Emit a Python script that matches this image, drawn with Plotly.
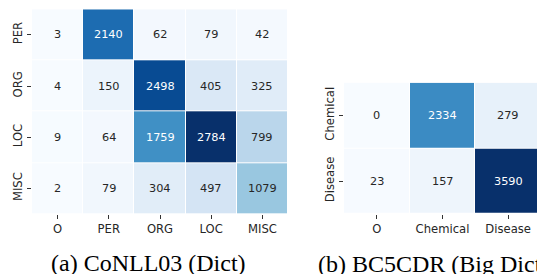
import plotly.graph_objects as go

# ---- data ----
conll_rows = ["PER", "ORG", "LOC", "MISC"]
conll_cols = ["O", "PER", "ORG", "LOC", "MISC"]
conll_vals = [
    [3, 2140, 62, 79, 42],
    [4, 150, 2498, 405, 325],
    [9, 64, 1759, 2784, 799],
    [2, 79, 304, 497, 1079],
]
bc5_rows = ["Chemical", "Disease"]
bc5_cols = ["O", "Chemical", "Disease"]
bc5_vals = [
    [0, 2334, 279],
    [23, 157, 3590],
]
caption_a = "(a) CoNLL03 (Dict)"
caption_b = "(b) BC5CDR (Big Dict)"

# matplotlib "Blues"
blues = ["#f7fbff", "#deebf7", "#c6dbef", "#9ecae1", "#6baed6",
         "#4292c6", "#2171b5", "#08519c", "#08306b"]
cscale = [[i / (len(blues) - 1), c] for i, c in enumerate(blues)]


def hex2rgb(h):
    h = h.lstrip("#")
    return [int(h[i:i + 2], 16) / 255 for i in (0, 2, 4)]


def interp(t):
    t = min(max(t, 0), 1) * (len(blues) - 1)
    i = min(int(t), len(blues) - 2)
    f = t - i
    a, b = hex2rgb(blues[i]), hex2rgb(blues[i + 1])
    return [a[k] + (b[k] - a[k]) * f for k in range(3)]


def lum(rgb):
    out = []
    for c in rgb:
        out.append(c / 12.92 if c <= 0.03928 else ((c + 0.055) / 1.055) ** 2.4)
    return 0.2126 * out[0] + 0.7152 * out[1] + 0.0722 * out[2]


W, H = 537, 274
fig = go.Figure()
annos = []


def add_panel(vals, rows, cols, xa, ya):
    flat = [v for r in vals for v in r]
    zmin, zmax = min(flat), max(flat)
    fig.add_trace(go.Heatmap(
        z=vals, x=cols, y=rows, colorscale=cscale, zmin=zmin, zmax=zmax,
        showscale=False, xgap=1, ygap=1, xaxis=xa, yaxis=ya,
        hoverinfo="skip"))
    for i, r in enumerate(rows):
        for j, c in enumerate(cols):
            v = vals[i][j]
            col = interp((v - zmin) / (zmax - zmin))
            tc = "#262626" if lum(col) > 0.408 else "white"
            annos.append(dict(x=c, y=r, xref=xa, yref=ya, text=str(v),
                              showarrow=False,
                              font=dict(size=11.3, color=tc,
                                        family="DejaVu Sans")))


add_panel(conll_vals, conll_rows, conll_cols, "x", "y")
add_panel(bc5_vals, bc5_rows, bc5_cols, "x2", "y2")

axis_common = dict(showgrid=False, zeroline=False, showline=False,
                   ticks="outside", ticklen=4, tickwidth=1,
                   tickcolor="#333333",
                   tickfont=dict(family="DejaVu Sans", size=11.6,
                                 color="#262626"))

annos.append(dict(x=148 / W, y=1 - 263 / H, xref="paper", yref="paper",
                  text=caption_a, showarrow=False, xanchor="center",
                  yanchor="middle",
                  font=dict(family="Liberation Serif", size=24,
                            color="black")))
annos.append(dict(x=316 / W, y=1 - 264 / H, xref="paper", yref="paper",
                  text=caption_b, showarrow=False, xanchor="left",
                  yanchor="middle",
                  font=dict(family="Liberation Serif", size=24,
                            color="black")))

fig.update_layout(
    width=W, height=H, margin=dict(l=0, r=0, t=0, b=0),
    paper_bgcolor="white", plot_bgcolor="white",
    xaxis=dict(domain=[32 / W, 288 / W], anchor="y", **axis_common),
    yaxis=dict(domain=[1 - 214 / H, 1 - 9.3 / H], anchor="x",
               autorange="reversed", tickangle=-90, **axis_common),
    xaxis2=dict(domain=[344 / W, 1.0], anchor="y2",
                range=[-0.5, 2.5 - 4 / 65.7], **axis_common),
    yaxis2=dict(domain=[1 - 214 / H, 1 - 82.7 / H], anchor="x2",
                autorange="reversed", tickangle=-90, **axis_common),
    annotations=annos,
    showlegend=False,
)

fig.write_html("out.html",
               config={"displayModeBar": False},
               post_script="document.body.style.margin='0';"
                           "document.body.style.overflow='hidden';")
